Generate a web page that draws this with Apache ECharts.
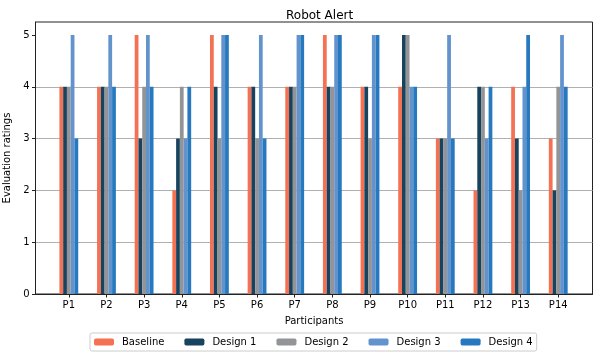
<!DOCTYPE html>
<html>
<head>
<meta charset="utf-8">
<script src="https://cdn.jsdelivr.net/npm/echarts@6/dist/echarts.min.js"></script>
<style>
  html, body { margin: 0; padding: 0; background: #fff; }
  #chart { width: 599px; height: 357px; }
</style>
</head>
<body>
<div id="chart"></div>
<script>
// participants on the x axis
var participants = ["P1", "P2", "P3", "P4", "P5", "P6", "P7", "P8", "P9", "P10", "P11", "P12", "P13", "P14"];
var yTicks = [0, 1, 2, 3, 4, 5];

// ratings per design
var baseline = [4, 4, 5, 2, 5, 4, 4, 5, 4, 4, 3, 2, 4, 3];
var design1  = [4, 4, 3, 3, 4, 4, 4, 4, 4, 5, 3, 4, 3, 2];
var design2  = [4, 4, 4, 4, 3, 3, 4, 4, 3, 5, 3, 4, 2, 4];
var design3  = [5, 5, 5, 3, 5, 5, 5, 5, 5, 4, 5, 3, 4, 5];
var design4  = [3, 4, 4, 4, 5, 3, 5, 5, 5, 4, 3, 4, 5, 4];

var seriesNames = ["Baseline", "Design 1", "Design 2", "Design 3", "Design 4"];
var seriesData = [baseline, design1, design2, design3, design4];
var colors = ["#f47153", "#18435f", "#929497", "#6393cd", "#2779bf"];

var font = "DejaVu Sans";
var chart = echarts.init(document.getElementById("chart"));

var xIdx = participants.map(function (p, i) { return i; });

var option = {
  animation: false,
  color: colors,
  title: {
    text: "Robot Alert",
    left: 281,
    top: 5,
    textStyle: { fontFamily: font, fontSize: 12, fontWeight: "normal", color: "#000" }
  },
  legend: {
    bottom: 6,
    left: 90,
    itemWidth: 20,
    itemHeight: 7,
    itemGap: 20,
    borderColor: "#cccccc",
    borderWidth: 1,
    borderRadius: 2,
    padding: [4, 4, 4, 4],
    textStyle: { fontFamily: font, fontSize: 10, color: "#000", padding: [0, 0, 0, 3] },
    data: seriesNames
  },
  grid: {
    left: 35.5,
    right: 6.5,
    top: 22,
    bottom: 63,
    outerBoundsMode: "none",
    containLabel: false,
    show: true,
    borderColor: "#222",
    borderWidth: 1
  },
  xAxis: {
    type: "value",
    min: -0.885,
    max: 13.91,
    name: "Participants",
    nameLocation: "middle",
    nameGap: 22,
    nameTextStyle: { fontFamily: font, fontSize: 10, color: "#000" },
    axisLine: { show: true, onZero: false, lineStyle: { color: "#222", width: 1 } },
    axisTick: { show: true, length: 3.5, customValues: xIdx, lineStyle: { color: "#222" } },
    axisLabel: {
      customValues: xIdx,
      fontFamily: font, fontSize: 10, color: "#000", margin: 6,
      formatter: function (v) { return participants[Math.round(v)]; }
    },
    splitLine: { show: false }
  },
  yAxis: {
    type: "value",
    min: 0,
    max: 5.25,
    name: "Evaluation ratings",
    nameLocation: "middle",
    nameGap: 19,
    nameRotate: 90,
    nameTextStyle: { fontFamily: font, fontSize: 10, color: "#000" },
    axisLine: { show: true, onZero: false, lineStyle: { color: "#222", width: 1 } },
    axisTick: { show: true, length: 3.5, customValues: yTicks, lineStyle: { color: "#222" } },
    axisLabel: { customValues: yTicks, fontFamily: font, fontSize: 10, color: "#000", margin: 6 },
    splitLine: { show: true, showMaxLine: false, lineStyle: { color: "#b0b0b0", width: 1 } }
  },
  series: seriesNames.map(function (name, k) {
    return {
      name: name,
      type: "bar",
      barWidth: "10%",
      barGap: "0%",
      data: seriesData[k].map(function (v, i) { return [i, v]; })
    };
  })
};

chart.setOption(option);
</script>
</body>
</html>
